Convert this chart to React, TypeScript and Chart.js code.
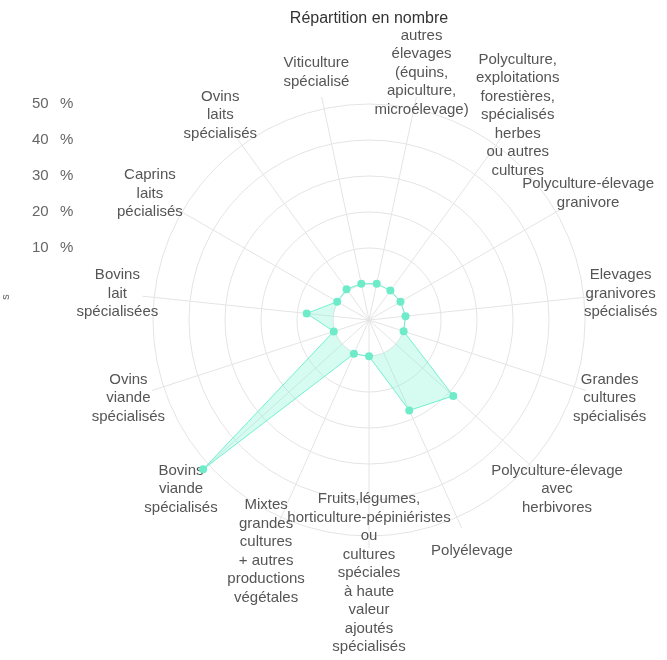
import React, { useEffect, useRef } from "react";
import { Chart, registerables } from "chart.js";

Chart.register(...registerables);

// Categories (clockwise, first one just right of the top)
const categories: string[][] = [
  ["autres", "élevages", "(équins,", "apiculture,", "microélevage)"],
  ["Polyculture,", "exploitations", "forestières,", "spécialisés", "herbes", "ou autres", "cultures"],
  ["Polyculture-élevage", "granivore"],
  ["Elevages", "granivores", "spécialisés"],
  ["Grandes", "cultures", "spécialisés"],
  ["Polyculture-élevage", "avec", "herbivores"],
  ["Polyélevage"],
  ["Fruits,légumes,", "horticulture-pépiniéristes", "ou", "cultures", "spéciales", "à haute", "valeur", "ajoutés", "spécialisés"],
  ["Mixtes", "grandes", "cultures", "+ autres", "productions", "végétales"],
  ["Bovins", "viande", "spécialisés"],
  ["Ovins", "viande", "spécialisés"],
  ["Bovins", "lait", "spécialisées"],
  ["Caprins", "laits", "pécialisés"],
  ["Ovins", "laits", "spécialisés"],
  ["Viticulture", "spécialisé"],
];

// Share of farms (%)
const values: number[] = [0.3, 0.1, 0.1, 0.2, 0.1, 21.5, 17.5, 0.1, 0.3, 52, 0.3, 7.4, 0.2, 0.6, 0.3];

const tickValues: number[] = [10, 20, 30, 40, 50];
const tickUnit = "%";
const titleText = "Répartition en nombre";
const axisTitleFragment = "s";

const FONT = '"Liberation Sans", Arial, sans-serif';
const GRID = "#e4e4e4";

export default function App() {
  const ref = useRef<HTMLCanvasElement | null>(null);

  useEffect(() => {
    const canvas = ref.current;
    if (!canvas) return;

    const decor = {
      id: "decor",
      beforeDatasetsDraw(chart: any) {
        const s = chart.scales.r;
        const ctx = chart.ctx;
        ctx.save();
        // angle lines (slightly longer than outer ring)
        ctx.strokeStyle = GRID;
        ctx.lineWidth = 1;
        const len = s.drawingArea + 12;
        for (let i = 0; i < categories.length; i++) {
          const p = s.getPointPosition(i, len);
          ctx.beginPath();
          ctx.moveTo(s.xCenter, s.yCenter);
          ctx.lineTo(p.x, p.y);
          ctx.stroke();
        }
        // point labels, centered multi-line blocks
        ctx.fillStyle = "#555555";
        ctx.font = `15px ${FONT}`;
        ctx.textAlign = "center";
        ctx.textBaseline = "middle";
        const lh = 18.5;
        const dist = s.drawingArea + 37;
        for (let i = 0; i < categories.length; i++) {
          const p = s.getPointPosition(i, dist);
          const lines = categories[i];
          const n = lines.length;
          for (let k = 0; k < n; k++) {
            ctx.fillText(lines[k], p.x, p.y + (k - (n - 1) / 2) * lh);
          }
        }
        ctx.restore();
      },
      afterDraw(chart: any) {
        const s = chart.scales.r;
        const ctx = chart.ctx;
        ctx.save();
        // tick labels on the left
        ctx.fillStyle = "#666666";
        ctx.font = `15px ${FONT}`;
        ctx.textBaseline = "middle";
        ctx.textAlign = "left";
        for (const v of tickValues) {
          const y = s.yCenter - s.getDistanceFromCenterForValue(v);
          ctx.fillText(String(v), 32, y);
          ctx.fillText(tickUnit, 60, y);
        }
        // clipped axis title fragment
        ctx.save();
        ctx.translate(6, 297);
        ctx.rotate(-Math.PI / 2);
        ctx.font = `11px ${FONT}`;
        ctx.fillStyle = "#666666";
        ctx.textAlign = "center";
        ctx.fillText(axisTitleFragment, 0, 0);
        ctx.restore();
        // title
        ctx.fillStyle = "#333333";
        ctx.font = `16px ${FONT}`;
        ctx.textAlign = "center";
        ctx.textBaseline = "middle";
        ctx.fillText(titleText, s.xCenter, 19);
        ctx.restore();
      },
    };

    const chart = new Chart(canvas, {
      type: "radar",
      data: {
        labels: categories,
        datasets: [
          {
            label: titleText,
            data: values,
            fill: true,
            borderColor: "rgba(100, 238, 202, 0.9)",
            borderWidth: 1,
            backgroundColor: "rgba(120, 245, 212, 0.3)",
            pointBackgroundColor: "rgba(110, 236, 202, 1)",
            pointBorderWidth: 0,
            pointRadius: 4,
          },
        ],
      },
      options: {
        responsive: true,
        maintainAspectRatio: false,
        animation: false,
        layout: { padding: { left: 153, top: 104, right: 82, bottom: 124 } },
        plugins: {
          legend: { display: false },
          title: { display: false },
          tooltip: { enabled: false },
        },
        scales: {
          r: {
            min: -10,
            max: 50,
            startAngle: 12,
            ticks: { display: false, stepSize: 10 },
            pointLabels: { display: false },
            angleLines: { display: false },
            grid: { circular: true, color: GRID, lineWidth: 1 },
          },
        },
      },
      plugins: [decor],
    } as any);

    return () => chart.destroy();
  }, []);

  return (
    <div style={{ position: "fixed", left: 0, top: 0, width: 667, height: 660 }}>
      <canvas ref={ref} />
    </div>
  );
}
